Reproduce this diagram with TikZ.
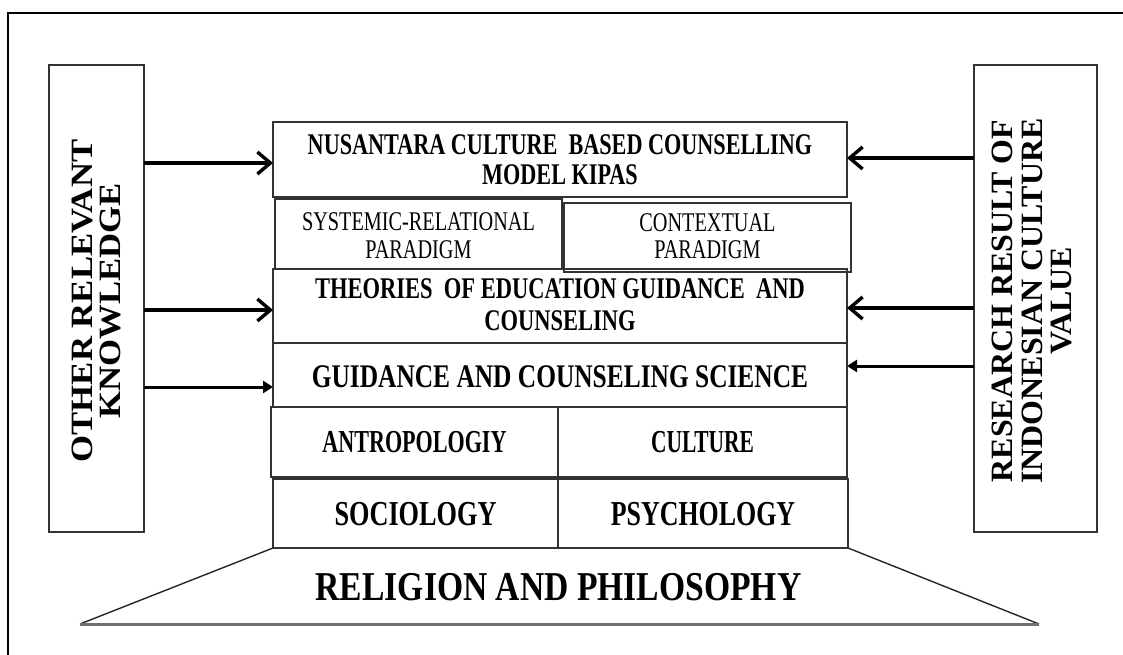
\documentclass[tikz,border=0pt]{standalone}
\usepackage{fontspec}
\setmainfont{Liberation Serif}
\usepackage{graphicx}
\usetikzlibrary{arrows.meta}
\definecolor{boxgray}{HTML}{333333}
\definecolor{basegray}{HTML}{707070}
\newcommand{\sqz}[3]{{\fontsize{#1}{#1}\selectfont\scalebox{#2}[1]{#3}}}
\newcommand{\bx}[5]{\node[box, minimum width={(#4-#2)*1pt}, minimum height={(#5-#3)*1pt}] (#1) at ({(#2+#4)/2},{(#3+#5)/2}) {};}
\begin{document}
\begin{tikzpicture}[x=1pt, y=-1pt,
  box/.style={draw=boxgray, line width=2.1pt, inner sep=0pt, outer sep=0pt},
  txt/.style={anchor=base, inner sep=0pt, font=\bfseries},
  txtn/.style={anchor=base, inner sep=0pt},
  arrA/.style={line width=3.4pt, -{Straight Barb[length=13pt,width=22pt]}},
  arrB/.style={line width=3pt, -{Triangle[length=10pt,width=12pt]}},
  frame/.style={line width=1.4pt, black},
  slant/.style={line width=1.4pt, black!85},
  baseline/.style={line width=3pt, basegray}]
\useasboundingbox (0,0) rectangle (1123,655);
\fill[white] (0,0) rectangle (1123,655);
% outer frame (runs off the right and bottom edges)
\draw[frame] (8,655) -- (8,13) -- (1123,13);

% side boxes
\bx{L}{49}{65}{144}{532}
\bx{R}{974}{65}{1097}{532}

% central stack
\bx{NUS}{273}{122}{847}{197}
\bx{SYS}{275}{199}{562}{269}
\bx{CON}{564}{203}{851}{272}
\bx{THE}{273}{269}{847}{343}
\bx{GUI}{273}{343}{847}{407}
\bx{ANT}{271}{407}{558}{477}
\bx{CUL}{558}{407}{847}{477}
\bx{SOC}{273}{479}{558}{548}
\bx{PSY}{558}{479}{848}{548}

% base trapezoid
\coordinate (bl) at (80,624);
\coordinate (br) at (1039,624);
\draw[slant] (SOC.south west) -- (bl);
\draw[slant] (PSY.south east) -- (br);
\draw[baseline] (bl) -- (br);

% texts
\node[txt] (t1a) at (NUS.center |- 0,155) {\sqz{30}{0.74}{NUSANTARA CULTURE\ \ BASED COUNSELLING}};
\node[txt] (t1b) at (NUS.center |- 0,185) {\sqz{30}{0.74}{MODEL KIPAS}};
\node[txtn] (t2a) at (SYS.center |- 0,230) {\sqz{27}{0.75}{SYSTEMIC-RELATIONAL}};
\node[txtn] (t2b) at (SYS.center |- 0,258) {\sqz{27}{0.75}{PARADIGM}};
\node[txtn] (t3a) at (CON.center |- 0,231) {\sqz{27}{0.75}{CONTEXTUAL}};
\node[txtn] (t3b) at (CON.center |- 0,258) {\sqz{27}{0.75}{PARADIGM}};
\node[txt] (t4a) at (THE.center |- 0,298) {\sqz{30}{0.75}{THEORIES\ \ OF EDUCATION GUIDANCE\ \ AND}};
\node[txt] (t4b) at (THE.center |- 0,330) {\sqz{30}{0.75}{COUNSELING}};
\node[txt] (t5) at (GUI.center |- 0,387) {\sqz{33}{0.77}{GUIDANCE AND COUNSELING SCIENCE}};
\node[txt] (t6) at (ANT.center |- 0,452) {\sqz{32}{0.69}{ANTROPOLOGIY}};
\node[txt] (t7) at (CUL.center |- 0,452) {\sqz{32}{0.67}{CULTURE}};
\node[txt] (t8) at (SOC.center |- 0,525) {\sqz{35}{0.75}{SOCIOLOGY}};
\node[txt] (t9) at (PSY.center |- 0,525) {\sqz{35}{0.74}{PSYCHOLOGY}};
\node[txt] (t10) at (558.5,600) {\sqz{41}{0.82}{RELIGION AND PHILOSOPHY}};

% rotated side texts
\node[txt, rotate=90] (o1) at (92,301) {\sqz{31}{1.12}{OTHER RELEVANT}};
\node[txt, rotate=90] (o2) at (120,301) {\sqz{31}{1.12}{KNOWLEDGE}};
\node[txt, rotate=90] (r1) at (1012,301) {\sqz{31}{1.03}{RESEARCH RESULT OF}};
\node[txt, rotate=90] (r2) at (1042,301) {\sqz{31}{1.03}{INDONESIAN CULTURE}};
\node[txt, rotate=90] (r3) at (1071,301) {\sqz{31}{1.03}{VALUE}};

% arrows from left
\draw[arrA] (L.east |- 0,163) -- (NUS.west |- 0,163);
\draw[arrA] (L.east |- 0,310) -- (THE.west |- 0,310);
\draw[arrB] (L.east |- 0,387) -- (GUI.west |- 0,387);
% arrows from right
\draw[arrA] (R.west |- 0,158) -- (NUS.east |- 0,158);
\draw[arrA] (R.west |- 0,308) -- (THE.east |- 0,308);
\draw[arrB] (R.west |- 0,366) -- (GUI.east |- 0,366);
\end{tikzpicture}
\end{document}
